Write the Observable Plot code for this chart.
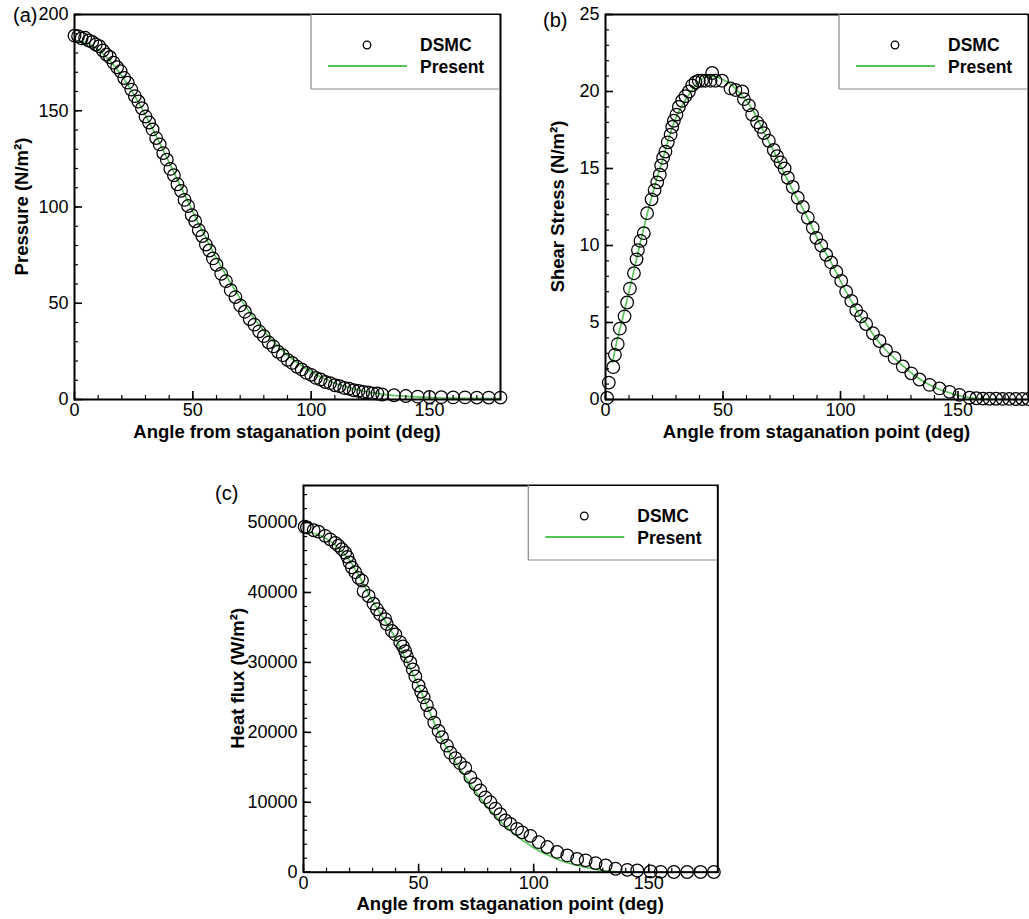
<!DOCTYPE html>
<html>
<head>
<meta charset="utf-8">
<script src="https://cdn.jsdelivr.net/npm/d3@7"></script>
<script src="https://cdn.jsdelivr.net/npm/@observablehq/plot@0.6"></script>
<style>
html, body { margin: 0; padding: 0; background: #fff; }
#wrap { position: relative; width: 1029px; height: 919px; overflow: hidden; font-family: Arial, "Liberation Sans", sans-serif; }
#wrap svg { position: absolute; overflow: visible; }
</style>
</head>
<body>
<div id="wrap"></div>
<script>
const FONT = 'Arial, "Liberation Sans", sans-serif';
const GREEN = "#55c355";
const xTitle = "Angle from staganation point (deg)";
const legendLabels = ["DSMC", "Present"];
const xMajorTicks = [0, 50, 100, 150];
const xMinorTicks = [0, 10, 20, 30, 40, 50, 60, 70, 80, 90, 100, 110, 120, 130, 140, 150, 160, 170, 180];

// ---------- (a) Pressure ----------
const pressureAngleDSMC = [0, 1.5, 3, 4.5, 6, 7.5, 9, 10.5, 12, 13.5, 15, 16.5, 18, 19.5, 21, 22.5, 24, 25.5, 27, 28.5, 30, 31.5, 33, 34.5, 36, 37.5, 39, 40.5, 42, 43.5, 45, 46.5, 48, 49.5, 51, 52.5, 54, 55.5, 57, 58.5, 60, 62, 64, 66, 68, 70, 72, 74, 76, 78, 80, 82, 84, 86, 88, 90, 92, 94, 96, 98, 100, 102, 104, 106, 108, 110, 112, 114, 116, 118, 120, 122, 124, 126, 128, 130, 135, 140, 145, 150, 155, 160, 165, 170, 175, 180];
const pressureDSMC = [189.0, 188.7, 187.6, 187.9, 186.5, 185.8, 184.4, 183.5, 181.3, 179.2, 177.8, 175.0, 172.6, 170.5, 167.0, 164.6, 161.0, 157.6, 154.8, 151.3, 147.0, 143.9, 140.3, 135.8, 132.5, 128.0, 124.6, 119.8, 116.5, 111.8, 108.4, 103.7, 100.5, 95.8, 92.6, 88.0, 84.9, 80.5, 77.4, 73.3, 70.0, 65.3, 61.5, 56.8, 53.2, 48.9, 45.6, 41.8, 38.9, 35.4, 32.9, 29.7, 27.6, 24.8, 23.0, 20.6, 19.0, 17.0, 15.6, 13.8, 12.8, 11.2, 10.4, 9.1, 8.5, 7.4, 6.9, 6.0, 5.6, 4.8, 4.5, 3.9, 3.7, 3.2, 3.1, 2.6, 2.2, 1.8, 1.5, 1.3, 1.2, 1.1, 1.1, 1.0, 1.0, 1.0];
const pressureAnglePresent = [1.5, 5, 10, 15, 20, 25, 30, 35, 40, 45, 50, 55, 60, 65, 70, 75, 80, 85, 90, 95, 100, 105, 110, 115, 120, 125, 130, 135, 140, 150, 160, 170, 180];
const pressurePresent = [186.3, 185.3, 181.7, 175.9, 168.1, 158.6, 147.7, 135.7, 123.2, 110.3, 97.6, 85.2, 73.4, 62.5, 52.5, 43.6, 35.7, 28.9, 23.1, 18.3, 14.3, 11.1, 8.5, 6.5, 4.9, 3.7, 2.8, 2.1, 1.6, 1.0, 0.7, 0.6, 0.5];
const pressureYMajor = [0, 50, 100, 150, 200];
const pressureYMinor = [0, 10, 20, 30, 40, 50, 60, 70, 80, 90, 100, 110, 120, 130, 140, 150, 160, 170, 180, 190, 200];

// ---------- (b) Shear stress ----------
const shearAngleDSMC = [0.7, 1.4, 3.3, 4.0, 5.2, 6.1, 8.1, 9.2, 10.4, 12.1, 13.2, 13.8, 14.9, 16.3, 17.7, 19.6, 20.9, 22.0, 23.1, 23.7, 24.5, 25.5, 26.5, 27.7, 28.4, 29.1, 30.2, 31.2, 32.6, 34.0, 35.5, 36.9, 38.3, 39.7, 41.1, 42.6, 44.7, 45.4, 46.8, 49.6, 53.2, 55.3, 58.2, 58.9, 61.0, 62.4, 64.5, 66.0, 67.4, 69.5, 71.6, 73.0, 74.5, 76.2, 77.6, 79.7, 81.8, 84.0, 86.1, 88.2, 89.7, 91.8, 93.9, 96.0, 98.2, 100.3, 102.4, 104.6, 106.7, 108.8, 110.9, 113.8, 116.6, 119.4, 123.0, 126.5, 130.1, 133.6, 137.9, 142.1, 146.4, 150.6, 154.9, 157.8, 160.6, 163.4, 166.2, 169.0, 171.8, 174.6, 177.4, 180.0];
const shearDSMC = [0.1, 1.1, 2.1, 2.9, 3.6, 4.6, 5.4, 6.3, 7.2, 8.2, 9.1, 9.7, 10.3, 10.8, 12.1, 13.0, 13.6, 14.1, 14.6, 15.2, 15.7, 16.1, 16.7, 17.2, 17.7, 18.1, 18.5, 19.0, 19.4, 19.7, 20.0, 20.4, 20.6, 20.7, 20.7, 20.7, 20.7, 21.2, 20.7, 20.7, 20.2, 20.1, 20.0, 19.5, 19.1, 18.5, 18.0, 17.7, 17.3, 16.8, 16.2, 15.8, 15.4, 15.0, 14.4, 13.8, 13.1, 12.5, 11.8, 11.15, 10.5, 10.0, 9.4, 8.9, 8.3, 7.7, 7.0, 6.4, 5.8, 5.4, 4.9, 4.3, 3.8, 3.2, 2.7, 2.15, 1.7, 1.3, 0.95, 0.72, 0.5, 0.3, 0.12, 0.08, 0.06, 0.05, 0.05, 0.04, 0.04, 0.03, 0.03, 0.03];
const shearAnglePresent = [3, 5, 7, 10, 12, 15, 18, 21, 24, 27, 30, 33, 36, 39, 42, 45, 48, 51, 54, 57, 60, 63, 66, 69, 72, 75, 78, 81, 84, 87, 90, 93, 96, 99, 102, 105, 108, 111, 114, 117, 120, 125, 130, 135, 140, 145, 150, 155, 160, 170, 180];
const shearPresent = [2.4, 3.9, 5.1, 7.0, 8.3, 10.3, 12.2, 13.9, 15.4, 17.0, 18.3, 19.2, 19.9, 20.5, 20.9, 21.0, 20.9, 20.7, 20.4, 19.9, 19.4, 18.7, 17.8, 16.9, 16.0, 15.0, 14.1, 13.2, 12.4, 11.5, 10.5, 9.7, 8.9, 8.0, 7.1, 6.3, 5.5, 4.9, 4.2, 3.6, 3.1, 2.4, 1.75, 1.2, 0.8, 0.5, 0.28, 0.12, 0.05, 0.01, 0];
const shearYMajor = [0, 5, 10, 15, 20, 25];
const shearYMinor = [0, 1, 2, 3, 4, 5, 6, 7, 8, 9, 10, 11, 12, 13, 14, 15, 16, 17, 18, 19, 20, 21, 22, 23, 24, 25];

// ---------- (c) Heat flux ----------
const heatAngleDSMC = [0.5, 1.5, 4.4, 6.5, 9.4, 11.6, 13.8, 15.2, 16.7, 18.1, 19.1, 20.0, 21.0, 22.5, 23.9, 25.4, 26.1, 28.3, 30.4, 31.9, 33.3, 35.5, 36.2, 38.4, 39.9, 42.0, 43.2, 44.2, 44.9, 46.4, 47.5, 48.6, 50.0, 51.1, 52.2, 53.6, 55.1, 56.8, 58.7, 60.2, 62.3, 63.8, 66.0, 68.0, 70.3, 72.5, 74.7, 76.8, 79.0, 81.2, 83.4, 85.5, 87.7, 89.9, 92.8, 95.0, 98.6, 102.2, 105.9, 110.2, 114.6, 118.9, 122.6, 126.9, 131.3, 135.6, 140.7, 145.0, 150.8, 155.2, 160.9, 166.7, 172.5, 178.3];
const heatDSMC = [49400, 49300, 48900, 48700, 48100, 47600, 47100, 46700, 46200, 45700, 45100, 44300, 43600, 42900, 42100, 41700, 40200, 39500, 38400, 37600, 36900, 36200, 35500, 34500, 34000, 32900, 32300, 31600, 30900, 30000, 29000, 28000, 26700, 25800, 25000, 23900, 22700, 21400, 20200, 19300, 18100, 17100, 16300, 15600, 14900, 13600, 12600, 11700, 10700, 10000, 9100, 8300, 7400, 6900, 6200, 5700, 5200, 4300, 3600, 2900, 2400, 1900, 1700, 1300, 960, 490, 340, 240, 100, 50, 30, 30, 30, 30];
const heatAnglePresent = [2, 10, 20, 30, 40, 50, 60, 70, 80, 90, 100, 110, 120, 130, 140, 150, 165, 180];
const heatPresent = [48700, 47700, 44600, 38800, 33400, 26600, 19100, 13800, 9300, 5900, 3500, 1900, 900, 250, 40, 0, 0, 0];
const heatYMajor = [0, 10000, 20000, 30000, 40000, 50000];
const heatYMinor = [0, 2000, 4000, 6000, 8000, 10000, 12000, 14000, 16000, 18000, 20000, 22000, 24000, 26000, 28000, 30000, 32000, 34000, 36000, 38000, 40000, 42000, 44000, 46000, 48000, 50000, 52000, 54000];

const panels = [
  { tag: "(a)", left: 0, top: 0, width: 530, height: 445, ml: 74, mr: 30, mt: 14, mb: 46,
    yDomain: [0, 200], yMajor: pressureYMajor, yMinor: pressureYMinor,
    dx: pressureAngleDSMC, dy: pressureDSMC, px: pressureAnglePresent, py: pressurePresent,
    yTitle: "Pressure (N/m²)", yTitleX: 22, tagX: 13, tagY: 22 },
  { tag: "(b)", left: 530, top: 0, width: 499, height: 445, ml: 75, mr: 1, mt: 14, mb: 46,
    yDomain: [0, 25], yMajor: shearYMajor, yMinor: shearYMinor,
    dx: shearAngleDSMC, dy: shearDSMC, px: shearAnglePresent, py: shearPresent,
    yTitle: "Shear Stress (N/m²)", yTitleX: 28, tagX: 13, tagY: 27 },
  { tag: "(c)", left: 200, top: 470, width: 530, height: 449, ml: 103, mr: 12.7, mt: 15, mb: 47.3,
    yDomain: [0, 55300], yMajor: heatYMajor, yMinor: heatYMinor,
    dx: heatAngleDSMC, dy: heatDSMC, px: heatAnglePresent, py: heatPresent,
    yTitle: "Heat flux (W/m²)", yTitleX: 38, tagX: 15, tagY: 30 }
];

const wrap = document.getElementById("wrap");

for (const c of panels) {
  const dsmc = c.dx.map((x, i) => ({ x, y: c.dy[i] }));
  const present = c.px.map((x, i) => ({ x, y: c.py[i] }));
  const chart = Plot.plot({
    width: c.width, height: c.height,
    marginLeft: c.ml, marginRight: c.mr, marginTop: c.mt, marginBottom: c.mb,
    x: { domain: [0, 180], label: null },
    y: { domain: c.yDomain, label: null },
    style: { fontFamily: FONT, fontSize: "18px", color: "black", background: "transparent", overflow: "visible" },
    marks: [
      Plot.line(present, { x: "x", y: "y", stroke: GREEN, strokeWidth: 1.6, curve: "monotone-x" }),
      Plot.dot(dsmc, { x: "x", y: "y", r: 6.3, stroke: "black", strokeWidth: 1.25, fill: "none" }),
      Plot.axisX(xMinorTicks, { anchor: "bottom", tickSize: -4, tickFormat: () => "", label: null, strokeWidth: 1.2 }),
      Plot.axisX(xMajorTicks, { anchor: "bottom", tickSize: -8, tickPadding: 12, tickFormat: d => String(d), label: null, strokeWidth: 1.6 }),
      Plot.axisY(c.yMinor, { anchor: "left", tickSize: -4, tickFormat: () => "", label: null, strokeWidth: 1.2 }),
      Plot.axisY(c.yMajor, { anchor: "left", tickSize: -8, tickPadding: 14, tickFormat: d => String(d), label: null, strokeWidth: 1.6 }),
      Plot.frame({ stroke: "black", strokeWidth: 2 })
    ]
  });
  chart.style.left = c.left + "px";
  chart.style.top = c.top + "px";
  wrap.appendChild(chart);

  const svg = d3.select(chart);
  const fr = { l: c.ml, t: c.mt, r: c.width - c.mr, b: c.height - c.mb };
  const g = svg.append("g").attr("font-family", FONT).attr("fill", "black").attr("text-anchor", "start");

  // legend box
  const lw = 189, lh = 75;
  g.append("rect").attr("x", fr.r - lw).attr("y", fr.t + 1).attr("width", lw - 1).attr("height", lh - 1).attr("fill", "white");
  g.append("line").attr("x1", fr.r - lw).attr("x2", fr.r - lw).attr("y1", fr.t).attr("y2", fr.t + lh).attr("stroke", "#888").attr("stroke-width", 1.2);
  g.append("line").attr("x1", fr.r - lw).attr("x2", fr.r).attr("y1", fr.t + lh).attr("y2", fr.t + lh).attr("stroke", "#888").attr("stroke-width", 1.2);
  g.append("circle").attr("cx", fr.r - 133).attr("cy", fr.t + 31).attr("r", 3.8).attr("fill", "none").attr("stroke", "black").attr("stroke-width", 1.3);
  g.append("line").attr("x1", fr.r - 172).attr("x2", fr.r - 93).attr("y1", fr.t + 52).attr("y2", fr.t + 52).attr("stroke", GREEN).attr("stroke-width", 1.8);
  g.append("text").attr("x", fr.r - 80).attr("y", fr.t + 31 + 6.2).attr("text-anchor", "start").attr("font-size", 17.5).attr("font-weight", "bold").text(legendLabels[0]);
  g.append("text").attr("x", fr.r - 80).attr("y", fr.t + 53 + 6.2).attr("text-anchor", "start").attr("font-size", 17.5).attr("font-weight", "bold").text(legendLabels[1]);

  // titles
  g.append("text").attr("x", (fr.l + fr.r) / 2).attr("y", fr.b + 38.5).attr("text-anchor", "middle")
    .attr("font-size", 18.5).attr("font-weight", "bold").text(xTitle);
  g.append("text").attr("transform", `translate(${c.yTitleX},${(fr.t + fr.b) / 2}) rotate(-90)`)
    .attr("text-anchor", "middle").attr("dy", "0.35em")
    .attr("font-size", 18.5).attr("font-weight", "bold").text(c.yTitle);
  g.append("text").attr("x", c.tagX).attr("y", c.tagY).attr("text-anchor", "start").attr("font-size", 20).text(c.tag);
}
</script>
</body>
</html>
